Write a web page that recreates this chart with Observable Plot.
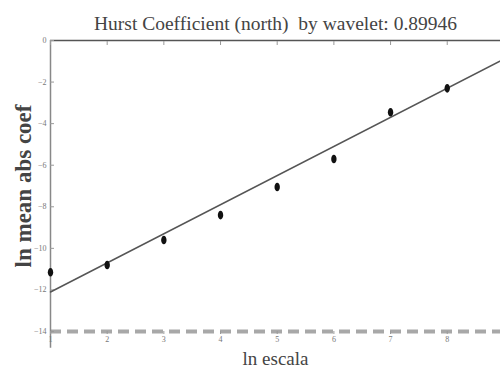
<!DOCTYPE html>
<html>
<head>
<meta charset="utf-8">
<script src="https://cdn.jsdelivr.net/npm/d3@7"></script>
<script src="https://cdn.jsdelivr.net/npm/@observablehq/plot@0.6"></script>
<style>
  html, body { margin: 0; padding: 0; background: #fff; }
  svg { display: block; }
</style>
</head>
<body>
<div id="chart"></div>
<script>
// log-scale index and mean absolute wavelet coefficient (log)
const lnScale = [1, 2, 3, 4, 5, 6, 7, 8];
const lnMeanAbsCoef = [-11.15, -10.8, -9.6, -8.4, -7.05, -5.7, -3.45, -2.3];

// fitted regression line endpoints
const fitX = [1, 9];
const fitY = [-12.1, -0.9];

const xTicks = [1, 2, 3, 4, 5, 6, 7, 8];
const yTicks = [0, -2, -4, -6, -8, -10, -12, -14];
const yFloor = -14;
const yAxisBottom = -14.8;

const titleText = "Hurst Coefficient (north)  by wavelet: 0.89946";
const xLabel = "ln escala";
const yLabel = "ln mean abs coef";

const points = lnScale.map((x, i) => ({x, y: lnMeanAbsCoef[i]}));
const fit = fitX.map((x, i) => ({x, y: fitY[i]}));

const serif = "'Liberation Serif', 'DejaVu Serif', serif";

// upright elliptical marker (taller than wide)
const ellipse = {
  draw(context, size) {
    const r = Math.sqrt(size / Math.PI);
    const rx = r * 0.75, ry = r * 1.2, k = 0.5523;
    context.moveTo(rx, 0);
    context.bezierCurveTo(rx, k * ry, k * rx, ry, 0, ry);
    context.bezierCurveTo(-k * rx, ry, -rx, k * ry, -rx, 0);
    context.bezierCurveTo(-rx, -k * ry, -k * rx, -ry, 0, -ry);
    context.bezierCurveTo(k * rx, -ry, rx, -k * ry, rx, 0);
    context.closePath();
  }
};

const chart = Plot.plot({
  width: 500,
  height: 379,
  marginTop: 40,
  marginLeft: 50,
  marginRight: 0,
  marginBottom: 48,
  style: {fontFamily: serif, background: "#fff"},
  x: {domain: [1, 8.94]},
  y: {domain: [-14, 0]},
  marks: [
    // dashed floor line at the lowest level
    Plot.ruleY([yFloor], {stroke: "#a8a8a8", strokeWidth: 4, strokeDasharray: "11,6"}),
    // top frame line
    Plot.ruleY([0], {stroke: "#555", strokeWidth: 1.5}),
    // left axis line
    Plot.ruleX([1], {y1: yAxisBottom, y2: 0, stroke: "#888", strokeWidth: 1.5}),
    Plot.axisX({anchor: "top", ticks: xTicks, tickSize: -4, tickFormat: () => "", stroke: "#999", label: null}),
    Plot.axisX({anchor: "bottom", ticks: xTicks, tickSize: 3, tickPadding: 2, fontSize: 8, fill: "#777", stroke: "#999", label: null}),
    Plot.axisY({anchor: "left", ticks: yTicks, tickSize: -4, tickPadding: 8, fontSize: 8, fill: "#777", stroke: "#999", label: null}),
    // regression line
    Plot.line(fit, {x: "x", y: "y", stroke: "#555", strokeWidth: 1.5}),
    // observations
    Plot.dot(points, {x: "x", y: "y", r: 3.6, symbol: ellipse, fill: "#111", stroke: "none"}),
    // title and axis labels
    Plot.text([titleText], {frameAnchor: "top", dy: -24, fontSize: 19.5, fill: "#444"}),
    Plot.text([xLabel], {frameAnchor: "bottom", dy: 33, fontSize: 19, fill: "#444"}),
    Plot.text([yLabel], {frameAnchor: "left", textAnchor: "middle", dx: -27, rotate: -90, fontSize: 23, fontWeight: "bold", fill: "#444"})
  ]
});

document.getElementById("chart").appendChild(chart);
</script>
</body>
</html>
